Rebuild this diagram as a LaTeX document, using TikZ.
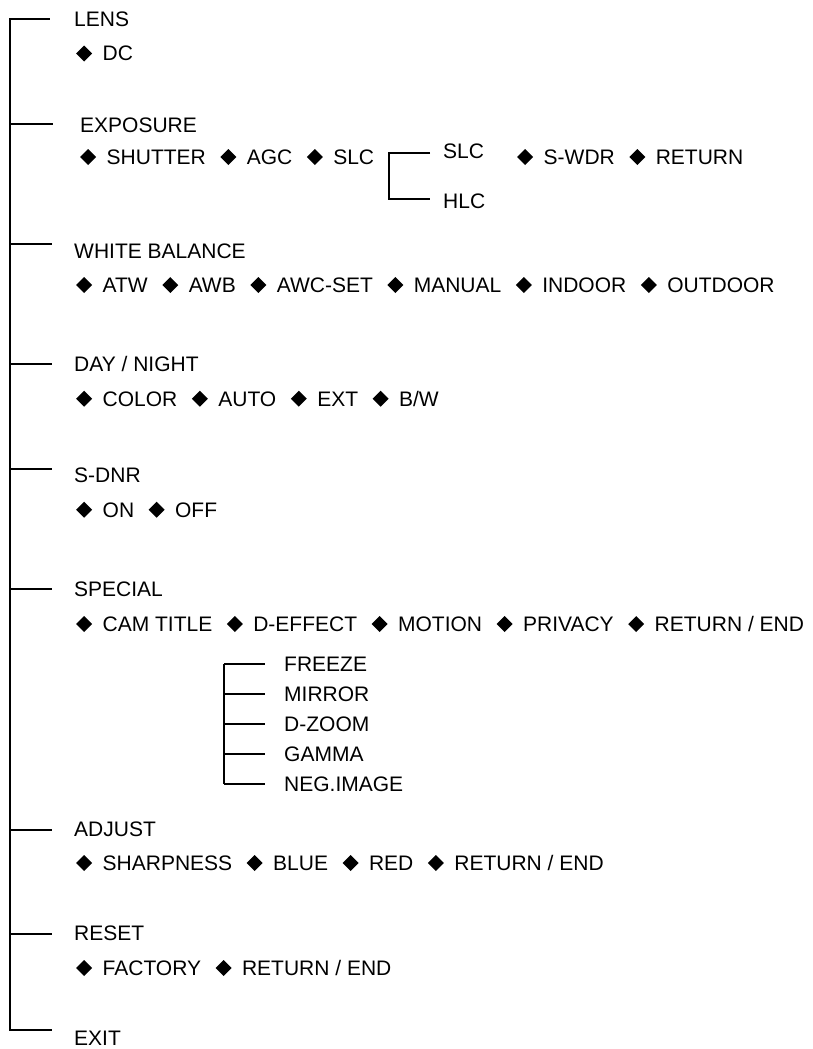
\documentclass[tikz,border=0pt]{standalone}
\usepackage{fontspec}
\setmainfont{Liberation Sans}
\usepackage{graphicx}
\newcommand{\dmd}{\raisebox{-0.5pt}{\rotatebox{45}{\rule{11.3pt}{11.3pt}}}}
\newcommand{\fd}{\dmd\hspace{10.5pt}}
\newcommand{\nd}{\hspace{14.5pt}\dmd\hspace{10.5pt}}
\tikzset{
  lbl/.style={anchor=west, inner sep=0pt, text height=15pt, text depth=0pt, font=\fontsize{21}{25}\selectfont},
  ln/.style={line width=1.3pt}
}
\begin{document}
\begin{tikzpicture}[x=1pt,y=-1pt]
\useasboundingbox (0,0) rectangle (813,1049);
% main trunk
\coordinate (top) at (10,19);
\coordinate (bot) at (10,1030);
\draw[ln, line cap=rect] (top) -- (bot);
% ticks
\foreach \n/\y/\e in {lens/19/50, expo/124/53, wb/244/52, dn/364/52, sdnr/469/52, spec/589/52, adj/830/52, rst/934/52, exit/1030/52}{
  \coordinate (t\n) at (10,\y);
  \coordinate (e\n) at (\e,\y);
  \draw[ln] (t\n) -- (e\n);
}
% titles
\node[lbl] (lens) at (74,19.5) {LENS};
\node[lbl] (lensr) at (76,53.5) {\fd DC};
\node[lbl] (expo) at (80,125) {EXPOSURE};
\node[lbl] (expor) at (80,157) {\fd SHUTTER\nd AGC\nd SLC};
\node[lbl] (expor2) at (517,157) {\fd S-WDR\nd RETURN};
\node[lbl] (slc) at (443,151) {SLC};
\node[lbl] (hlc) at (443,200.5) {HLC};
\coordinate (b1t) at (389,153);
\coordinate (b1b) at (389,199);
\coordinate (b1te) at (430,153);
\coordinate (b1be) at (430,199);
\draw[ln] (b1te) -- (b1t) -- (b1b) -- (b1be);
\node[lbl] (wb) at (74,250.5) {WHITE BALANCE};
\node[lbl] (wbr) at (76,285) {\fd ATW\nd AWB\nd AWC-SET\nd MANUAL\nd INDOOR\nd OUTDOOR};
\node[lbl] (dn) at (74,364) {DAY / NIGHT};
\node[lbl] (dnr) at (76,398.7) {\fd COLOR\nd AUTO\nd EXT\nd B/W};
\node[lbl] (sdnr) at (74,475) {S-DNR};
\node[lbl] (sdnrr) at (76,509.7) {\fd ON\nd OFF};
\node[lbl] (spec) at (74,589) {SPECIAL};
\node[lbl] (specr) at (76,624) {\fd CAM TITLE\nd D-EFFECT\nd MOTION\nd PRIVACY\nd RETURN / END};
% special sub-bracket
\coordinate (b2t) at (224,664);
\coordinate (b2b) at (224,784);
\draw[ln] (b2t) -- (b2b);
\foreach \n/\t/\y in {fr/FREEZE/664, mi/MIRROR/694, dz/D-ZOOM/724, ga/GAMMA/754, ng/NEG.IMAGE/784}{
  \coordinate (s\n) at (224,\y);
  \coordinate (se\n) at (265,\y);
  \draw[ln] (s\n) -- (se\n);
  \node[lbl] (\n) at (284,\y) {\t};
}
\node[lbl] (adj) at (74,829) {ADJUST};
\node[lbl] (adjr) at (76,863) {\fd SHARPNESS\nd BLUE\nd RED\nd RETURN / END};
\node[lbl] (rst) at (74,933) {RESET};
\node[lbl] (rstr) at (76,968) {\fd FACTORY\nd RETURN / END};
\node[lbl] (exit) at (74,1038) {EXIT};
\end{tikzpicture}
\end{document}
